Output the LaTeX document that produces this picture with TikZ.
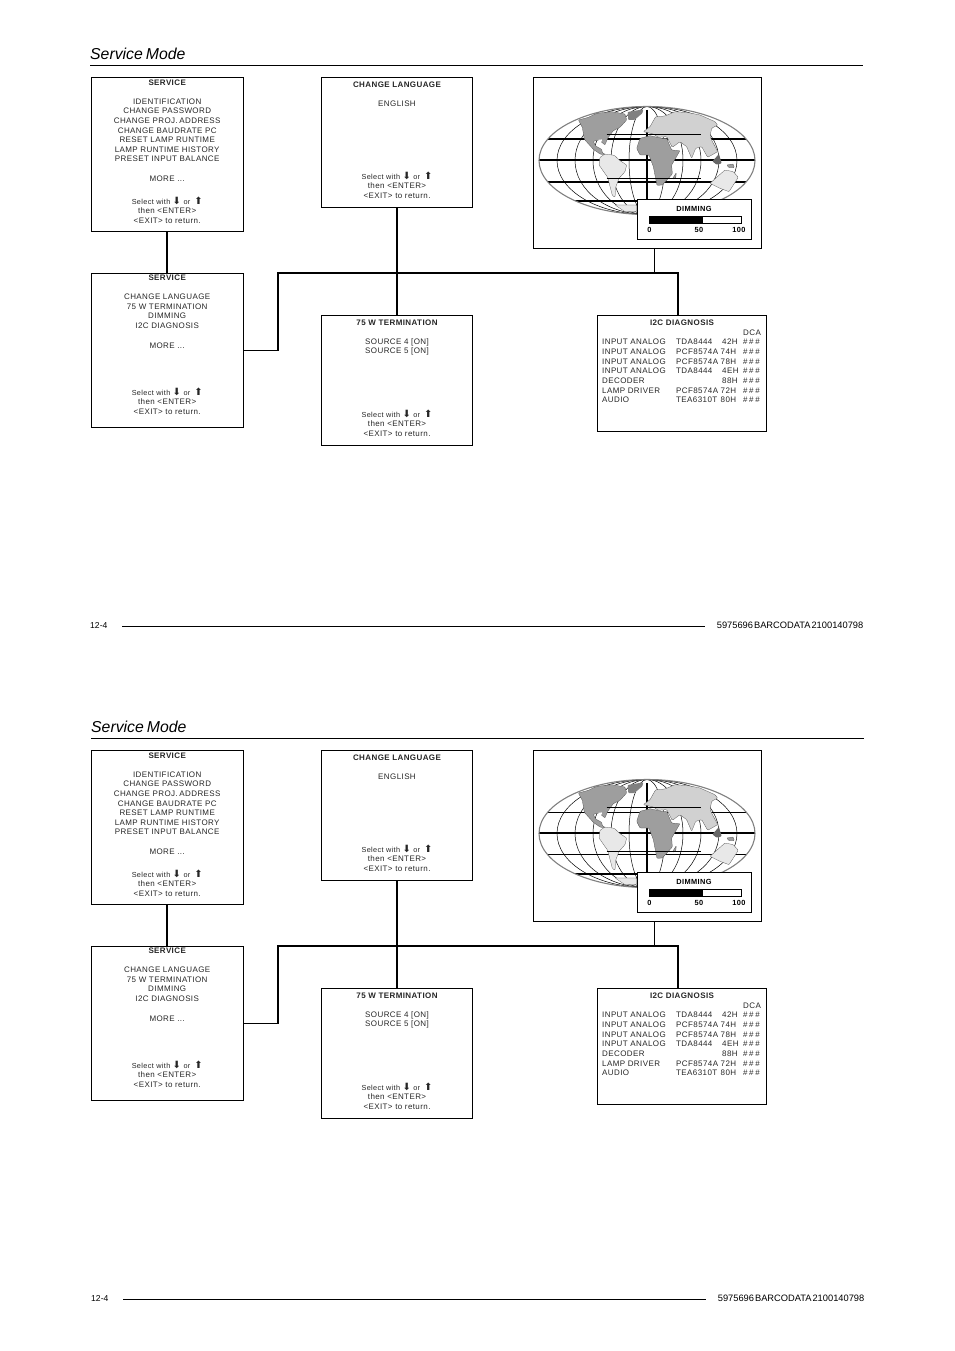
\documentclass[tikz,border=0pt]{standalone}
\usepackage{fontspec}
\setmainfont{Liberation Sans}
\newfontfamily\menufont[LetterSpace=5,WordSpace=1.9]{Liberation Sans}
\newfontfamily\titlefamily[LetterSpace=5,WordSpace=1]{Liberation Sans}
\newfontfamily\arrowfont{DejaVu Sans}
\usetikzlibrary{positioning}

\newcommand{\menutitle}[1]{{\titlefamily\bfseries #1}}
\newcommand{\selecttext}{\fontsize{7.3}{9.62}\selectfont Select with {\arrowfont\fontsize{10}{9.62}\selectfont ⬇} or\ \kern1.5pt{\arrowfont\fontsize{10}{9.62}\selectfont ⬆}\\then <ENTER>\\<EXIT> to return.}
\newcommand{\diagrow}[3]{\makebox[74pt][l]{#1}\makebox[44.5pt][l]{#2}\makebox[22.5pt][l]{#3}\#\kern1.6pt\#\kern1.6pt\#}

% one page of the manual: prefix, x and y offset, width of first link, widths of two grid lines
\newcommand{\servicepage}[6]{
	\begin{scope}[shift={(0,#3)}, name prefix=#1-]
		% Cabecera
		\node[pagetitle] (title) at (90+#2,53.5) {Service\hspace{3pt}Mode};
		\coordinate (ruleL) at (90+#2,65.7);
		\coordinate (ruleR) at (863+#2,65.7);
		\draw[rulebar] (ruleL) -- (ruleR);
		
		% Menus
		\node[menubox, minimum width=151.5pt, minimum height=154pt] (svc) at (167.2,154.5) {};
		\node[menutext, below=2.6pt of svc.north] (svctext) {\menutitle{SERVICE}\\[9.1pt]
			IDENTIFICATION\\CHANGE PASSWORD\\CHANGE PROJ.\kern-1pt\ ADDRESS\\CHANGE BAUDRATE PC\\
			RESET LAMP RUNTIME\\LAMP RUNTIME HISTORY\\PRESET INPUT BALANCE\\[9.7pt]
			MORE ...\\[13.3pt]
			\selecttext};
		
		\node[menubox, minimum width=151.5pt, minimum height=154pt] (sub) at (167.2,350.5) {};
		\node[menutext, below=1.6pt of sub.north] (subtext) {\menutitle{SERVICE}\\[9.6pt]
			CHANGE LANGUAGE\\75 W TERMINATION\\DIMMING\\I2C DIAGNOSIS\\[10pt]
			MORE ...\\[37.4pt]
			\selecttext};
		
		\node[menubox, minimum width=151pt, minimum height=130pt] (lang) at (397,142.5) {};
		\node[menutext, below=4.4pt of lang.north] (langtext) {\menutitle{CHANGE LANGUAGE}\\[9.3pt]
			ENGLISH\\[63.3pt]
			\selecttext};
		
		\node[menubox, minimum width=151pt, minimum height=130pt] (term) at (397,380.5) {};
		\node[menutext, below=4.4pt of term.north] (termtext) {\menutitle{75 W TERMINATION}\\[9.3pt]
			SOURCE 4 [ON]\\SOURCE 5 [ON]\\[53.6pt]
			\selecttext};
		
		\node[menubox, minimum width=169pt, minimum height=116pt] (diag) at (682,373.5) {};
		\node[menutext, below=5pt of diag.north] (diagtitle) {\menutitle{I2C DIAGNOSIS}};
		\node[menutext, align=left, anchor=north west] (diagrows) at (602,329.5) {
			\hspace*{141pt}DCA\\
			\diagrow{INPUT ANALOG}{TDA8444}{\kern1.5pt 42H}\\
			\diagrow{INPUT ANALOG}{PCF8574A}{74H}\\
			\diagrow{INPUT ANALOG}{PCF8574A}{78H}\\
			\diagrow{INPUT ANALOG}{TDA8444}{\kern1.5pt 4EH}\\
			\diagrow{DECODER}{}{\kern1.5pt 88H}\\
			\diagrow{LAMP DRIVER}{PCF8574A}{72H}\\
			\diagrow{AUDIO}{TEA6310T}{80H}};
		
		% Mapa
		\node[menubox, minimum width=228pt, minimum height=170.5pt] (mapbox) at (647.5,162.7) {};
		\coordinate (mapcen) at (647,160.5);
		\begin{scope}
			\clip (mapcen) ellipse (108pt and 54pt);
			\foreach \r in {18,36,...,90} {
				\draw[line width=.5pt] (mapcen) ellipse (\r pt and 54pt);
			}
			\draw[line width=#5] (540,139) -- (755,139);
			\draw[line width=2pt] (539,160.3) -- (755,160.3);
			\draw[line width=#6] (540,181.7) -- (755,181.7);
			\draw[line width=2pt] (574,200.7) -- (640,200.7);
			\draw[line width=2pt] (647,110) -- (647,200);
		\end{scope}
		\draw[gray, line width=1.1pt] (mapcen) ellipse (108pt and 54pt);
		\begin{scope}[shift={(525,70)}, x=.3333pt, y=-.3333pt, every path/.append style={rounded corners=.8pt}]
			% Norteamerica
			\path[mapdark] (160,150) -- (190,142) -- (215,130) -- (260,125) -- (300,132) -- (305,150) -- (285,172) -- (265,182) -- (248,205) -- (240,225) -- (222,210) -- (205,214) -- (212,228) -- (230,238) -- (232,248) -- (245,256) -- (225,252) -- (205,238) -- (178,208) -- (172,172) -- cycle;
			\fill[black!50] (308,126) -- (355,118) -- (352,130) -- (328,150) -- (310,150) -- cycle;
			\fill[white] (218,210) -- (232,208) -- (228,218) -- cycle;
			% Sudamerica
			\path[maplight] (225,262) -- (240,252) -- (268,256) -- (285,272) -- (305,285) -- (300,305) -- (282,325) -- (272,352) -- (270,382) -- (262,376) -- (248,322) -- (222,285) -- cycle;
			% Africa
			\path[mapdark] (335,235) -- (345,205) -- (375,197) -- (410,205) -- (425,205) -- (440,240) -- (465,242) -- (440,285) -- (442,312) -- (412,345) -- (396,346) -- (385,290) -- (372,255) -- (345,255) -- cycle;
			\path[mapdark] (442,327) -- (454,308) -- (452,326) -- cycle;
			% Eurasia
			\path[mapmid] (355,185) -- (375,170) -- (392,140) -- (420,138) -- (450,125) -- (490,128) -- (525,135) -- (570,155) -- (578,165) -- (560,175) -- (555,200) -- (578,245) -- (548,262) -- (530,230) -- (512,235) -- (500,265) -- (485,230) -- (465,215) -- (442,232) -- (425,200) -- (400,202) -- (385,192) -- cycle;
			% Indonesia, Australia, Antartida
			\fill[black!60] (562,274) -- (582,252) -- (590,280) -- (575,284) -- cycle;
			\path[mapdark] (605,285) -- (625,282) -- (628,293) -- (612,293) -- cycle;
			\path[maplight] (555,340) -- (575,322) -- (600,300) -- (625,305) -- (640,322) -- (612,365) -- (585,355) -- cycle;
			\path[maplight] (270,405) -- (335,405) -- (335,425) -- (300,425) -- cycle;
			% Lineas finas
			\draw[line width=.7pt] (245,193) -- (527,193);
			\draw[line width=.7pt] (245,325) -- (527,325);
		\end{scope}
		
		% Regulador
		\node[menubox, fill=white, minimum width=114pt, minimum height=40pt] (dimbox) at (694.5,219) {};
		\node[dimtext] (dimtitle) at (694,209) {DIMMING};
		\node[draw, fill=white, inner sep=0pt, minimum width=92.5pt, minimum height=7.8pt] (dimbar) at (695.3,219.6) {};
		\node[fill=black, inner sep=0pt, minimum width=54pt, minimum height=7.8pt, anchor=west] (dimfill) at (dimbar.west) {};
		\node[dimtext] (dimzero) at (649.5,230) {0};
		\node[dimtext] (dimfifty) at (699,230) {50};
		\node[dimtext] (dimfull) at (739,230) {100};
		
		% Conexiones
		\coordinate (busL) at (278,273);
		\coordinate (busR) at (678,273);
		\coordinate (busS) at (278,350.5);
		\draw[link] (svc.south) -- (sub.north);
		\draw[line width=#4] (sub.east) -- (busS);
		\draw[link, line join=miter] (busS) -- (busL) -- (busR) -- (busR |- diag.north);
		\draw[link] (lang.south) -- (term.north);
		\draw[line width=.7pt] ([xshift=6.5pt]mapbox.south) -- ([xshift=6.5pt]mapbox.south |- busL);
		
		% Pie
		\node[pagefoot, anchor=west] (folio) at (90+#2,625) {12-4};
		\node[pagefoot, anchor=east, font=\fontsize{9.3}{10}\selectfont] (docnum) at (863.5+#2,625.5) {5975696\kern1pt BARCODATA\kern1pt 2100140798};
		\coordinate (footL) at (122+#2,626.5);
		\coordinate (footR) at (705+#2,626.5);
		\draw[rulebar] (footL) -- (footR);
	\end{scope}
}

\begin{document}
\begin{tikzpicture}[
	x=1pt, y=-1pt,
	menubox/.style={draw, rectangle, line width=.8pt, inner sep=0pt},
	menutext/.style={font=\menufont\fontsize{8}{9.62}\selectfont, align=center, inner sep=0pt, text=black!85},
	dimtext/.style={font=\titlefamily\bfseries\fontsize{7.4}{9.62}\selectfont, inner sep=0pt},
	mapdark/.style={fill=black!38, draw=black!70, line width=.25pt},
	mapmid/.style={fill=black!18, draw=black!70, line width=.25pt},
	maplight/.style={fill=black!9, draw=black!70, line width=.25pt},
	link/.style={line width=1.9pt},
	rulebar/.style={line width=.8pt},
	pagetitle/.style={anchor=west, inner sep=0pt, font=\fontsize{15.8}{18}\selectfont\itshape},
	pagefoot/.style={inner sep=0pt, font=\fontsize{8.6}{10}\selectfont}
	]
	
	\useasboundingbox (0,0) rectangle (954,1351);
	
	\servicepage{up}{0}{0}{1.9pt}{2pt}{2pt}
	\servicepage{lo}{1}{673}{.7pt}{.8pt}{1.3pt}
	
\end{tikzpicture}
\end{document}
